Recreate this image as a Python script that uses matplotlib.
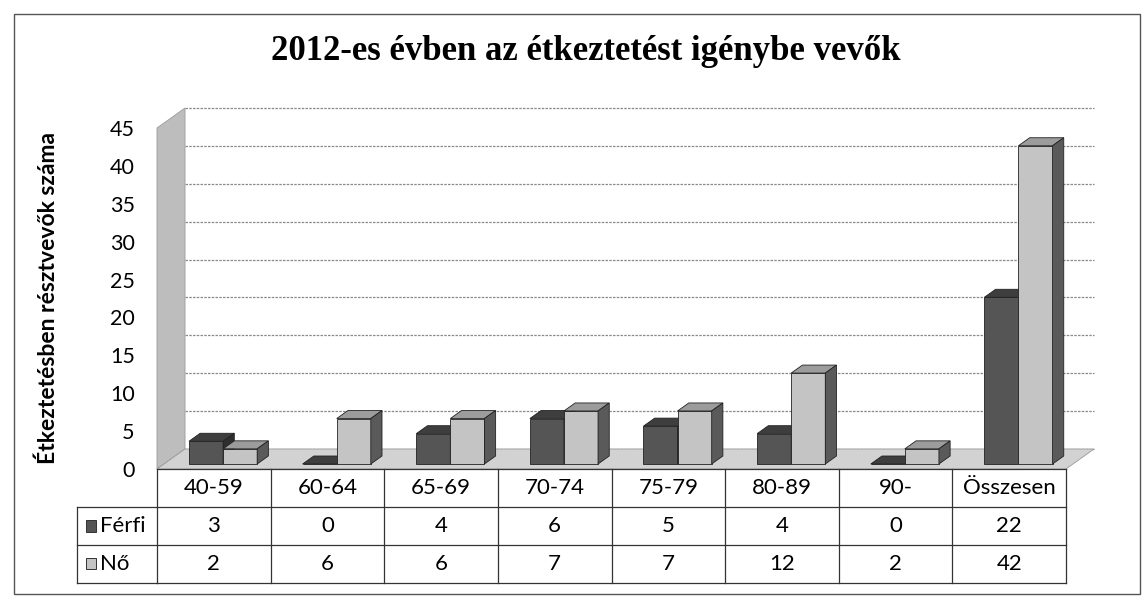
import matplotlib.pyplot as plt
from matplotlib.patches import Polygon, Rectangle
from matplotlib.lines import Line2D

# adatok
korcsoportok = ["40-59", "60-64", "65-69", "70-74", "75-79", "80-89", "90-", "Összesen"]
ferfi = [3, 0, 4, 6, 5, 4, 0, 22]
no = [2, 6, 6, 7, 7, 12, 2, 42]
y_ticks = list(range(0, 50, 5))

W, H = 1145, 602
fig = plt.figure(figsize=(W / 100, H / 100), dpi=100)

# rajzterulet pixelben: x 157..1066, y=0 -> 469, y=45 -> 128
ax = fig.add_axes([157 / W, (H - 469) / H, 909 / W, 341 / H])
n = len(korcsoportok)
ax.set_xlim(-0.5, n - 0.5)
ax.set_ylim(0, 45)
for s in ax.spines.values():
    s.set_visible(False)
ax.set_xticks([])
ax.set_yticks(y_ticks)
ax.tick_params(axis="y", length=0, pad=16, labelsize=15.5)
for lab in ax.get_yticklabels():
    lab.set_family("Lato")
ax.set_ylabel("Étkeztetésben résztvevők száma", fontsize=16.5, fontweight="bold", family="Lato")
ax.yaxis.set_label_coords(-0.108, 0.5)

# 3D melyseg (adat egysegben)
dx = 28 / 113.6
dy = 20 / 7.578
x0, x1 = -0.5, n - 0.5

# hatso fal racsvonalai
for t in y_ticks:
    ax.add_line(Line2D([x0 + dx, x1 + dx], [t + dy, t + dy], color="#8a8a8a",
                       lw=0.9, ls=(0, (2, 1)), clip_on=False, zorder=1))

# bal fal es padlo
ax.add_patch(Polygon([(x0, 0), (x0 + dx, dy), (x0 + dx, 45 + dy), (x0, 45)],
                     closed=True, fc="#bdbdbd", ec="#999999", lw=0.6, clip_on=False, zorder=2))
ax.add_patch(Polygon([(x0, 0), (x1, 0), (x1 + dx, dy), (x0 + dx, dy)],
                     closed=True, fc="#d2d2d2", ec="#9a9a9a", lw=0.6, clip_on=False, zorder=2))

# oszlopok
d0, d1 = 0.25, 0.65
bdx, bdy = (d1 - d0) * dx, (d1 - d0) * dy
bw = 0.30
stilus = {
    "Férfi": ("#555555", "#3e3e3e", "#2e2e2e"),
    "Nő": ("#c4c4c4", "#9c9c9c", "#5a5a5a"),
}
z = 3
for i in range(n):
    for nev, vals, off in (("Férfi", ferfi, -0.28), ("Nő", no, 0.02)):
        front, top, side = stilus[nev]
        h = vals[i]
        xl = i + off + d0 * dx
        b = d0 * dy
        xr = xl + bw
        ax.bar(xl, h, width=bw, bottom=b, align="edge", color=front,
               edgecolor="#222222", lw=0.6, zorder=z, clip_on=False)
        ax.add_patch(Polygon([(xl, h + b), (xr, h + b), (xr + bdx, h + b + bdy), (xl + bdx, h + b + bdy)],
                             closed=True, fc=top, ec="#222222", lw=0.6, zorder=z, clip_on=False))
        ax.add_patch(Polygon([(xr, b), (xr, h + b), (xr + bdx, h + b + bdy), (xr + bdx, b + bdy)],
                             closed=True, fc=side, ec="#222222", lw=0.6, zorder=z, clip_on=False))
        z += 1

# adattabla
rh = 5.0
lab_x0 = x0 - 80 / 113.6
tkw = dict(color="#333333", lw=0.9, clip_on=False, zorder=20)
for k in range(4):
    ax.add_line(Line2D([x0, x1], [-k * rh, -k * rh], **tkw))
for k in (1, 2, 3):
    ax.add_line(Line2D([lab_x0, x0], [-k * rh, -k * rh], **tkw))
for j in range(n + 1):
    ax.add_line(Line2D([x0 + j, x0 + j], [0, -3 * rh], **tkw))
ax.add_line(Line2D([lab_x0, lab_x0], [-rh, -3 * rh], **tkw))

fs = 16
for i in range(n):
    ax.text(i, -0.5 * rh, korcsoportok[i], ha="center", va="center", fontsize=fs, family="Lato", clip_on=False)
    ax.text(i, -1.5 * rh, str(ferfi[i]), ha="center", va="center", fontsize=fs, family="Lato", clip_on=False)
    ax.text(i, -2.5 * rh, str(no[i]), ha="center", va="center", fontsize=fs, family="Lato", clip_on=False)

for k, (nev, col) in enumerate((("Férfi", "#555555"), ("Nő", "#c4c4c4"))):
    yc = -(1.5 + k) * rh
    ax.add_patch(Rectangle((lab_x0 + 9 / 113.6, yc - 0.75), 10 / 113.6, 1.5, fc=col,
                           ec="#333333", lw=0.7, clip_on=False, zorder=21))
    ax.text(lab_x0 + 23 / 113.6, yc, nev, ha="left", va="center", fontsize=fs, family="Lato", clip_on=False)

# cim
fig.text(586 / W, 1 - 52 / H, "2012-es évben az étkeztetést igénybe vevők", ha="center", va="center",
         fontsize=25, fontweight="bold", family="Liberation Serif")

# kulso keret
fig.add_artist(Rectangle((14 / W, 1 - 594 / H), (1140 - 14) / W, (594 - 14) / H,
                         transform=fig.transFigure, fill=False, ec="#555555", lw=1.0))

fig.savefig("out.png", dpi=100)
